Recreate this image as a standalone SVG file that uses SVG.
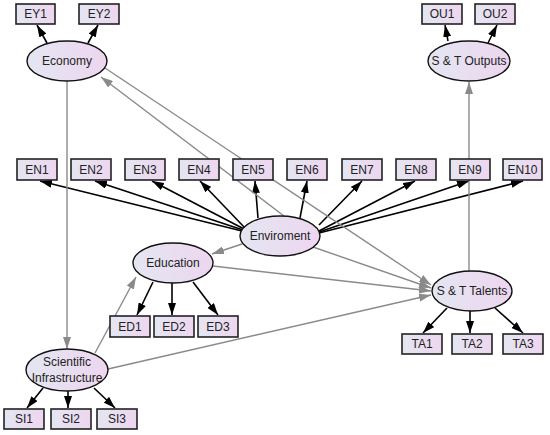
<svg xmlns="http://www.w3.org/2000/svg" width="550" height="435" viewBox="0 0 550 435">
<defs>
<linearGradient id="g" x1="0" y1="0" x2="1" y2="0">
<stop offset="0" stop-color="#e4e6f2"/>
<stop offset="1" stop-color="#edd6ef"/>
</linearGradient>
<marker id="ab" viewBox="0 0 12 8" refX="12" refY="4" markerWidth="12" markerHeight="8" markerUnits="userSpaceOnUse" orient="auto">
<path d="M0,0 L12,4 L0,8 z" fill="#000"/>
</marker>
<marker id="ag" viewBox="0 0 12 8" refX="12" refY="4" markerWidth="12" markerHeight="8" markerUnits="userSpaceOnUse" orient="auto">
<path d="M0,0 L12,4 L0,8 z" fill="#8a8a8a"/>
</marker>
</defs>
<style>
rect{fill:url(#g);stroke:#222;stroke-width:1.6}
ellipse{fill:url(#g);stroke:#111;stroke-width:1.4}
text{font-family:"Liberation Sans",Arial,sans-serif;font-size:12px;fill:#222;text-anchor:middle;dominant-baseline:central}
.b{stroke:#000;stroke-width:1.6;fill:none;marker-end:url(#ab)}
.gr{stroke:#8a8a8a;stroke-width:1.4;fill:none;marker-end:url(#ag)}
</style>
<rect width="550" height="435" fill="#fff" style="fill:#fff;stroke:none"/>
<g id="connectors">
<line class="b" x1="47" y1="43" x2="37" y2="25"/>
<line class="b" x1="88" y1="43" x2="98" y2="25"/>
<line class="b" x1="448" y1="41" x2="445" y2="25"/>
<line class="b" x1="488" y1="43" x2="497" y2="25"/>
<line class="b" x1="242" y1="231" x2="40" y2="181"/>
<line class="b" x1="243" y1="230" x2="95" y2="181"/>
<line class="b" x1="244" y1="229" x2="152" y2="181"/>
<line class="b" x1="245" y1="228" x2="200" y2="181"/>
<line class="b" x1="258" y1="218" x2="255" y2="181"/>
<line class="b" x1="300" y1="218" x2="307" y2="181"/>
<line class="b" x1="319" y1="225" x2="362" y2="181"/>
<line class="b" x1="319" y1="231" x2="415" y2="181"/>
<line class="b" x1="319" y1="232" x2="469" y2="181"/>
<line class="b" x1="319" y1="233" x2="523" y2="181"/>
<line class="b" x1="153" y1="282" x2="137" y2="315"/>
<line class="b" x1="172" y1="283" x2="172" y2="315"/>
<line class="b" x1="193" y1="282" x2="218" y2="315"/>
<line class="b" x1="447" y1="308" x2="423" y2="333"/>
<line class="b" x1="470" y1="311" x2="470" y2="333"/>
<line class="b" x1="495" y1="308" x2="523" y2="333"/>
<line class="b" x1="43" y1="388" x2="27" y2="408"/>
<line class="b" x1="68" y1="391" x2="68" y2="408"/>
<line class="b" x1="94" y1="388" x2="115" y2="408"/>
<line class="gr" x1="67" y1="81" x2="67" y2="349"/>
<line class="gr" x1="469" y1="271" x2="469" y2="82"/>
<line class="gr" x1="284" y1="216" x2="101" y2="77"/>
<line class="gr" x1="105" y1="68" x2="431" y2="285"/>
<line class="gr" x1="313" y1="247" x2="431" y2="288"/>
<line class="gr" x1="213" y1="266" x2="431" y2="291"/>
<line class="gr" x1="108" y1="369" x2="431" y2="295"/>
<line class="gr" x1="242" y1="244" x2="212" y2="254"/>
<line class="gr" x1="95" y1="353" x2="136" y2="277"/>
</g>
<g id="EY1"><rect x="16" y="4" width="39" height="20"/><text x="35.5" y="14">EY1</text></g>
<g id="EY2"><rect x="79" y="4" width="40" height="20"/><text x="99" y="14">EY2</text></g>
<g id="OU1"><rect x="422" y="4" width="40" height="20"/><text x="442" y="14">OU1</text></g>
<g id="OU2"><rect x="475" y="4" width="40" height="20"/><text x="495" y="14">OU2</text></g>
<g id="Economy"><ellipse cx="67" cy="61" rx="40" ry="20"/><text x="67" y="61">Economy</text></g>
<g id="Outputs"><ellipse cx="469" cy="61" rx="41" ry="20"/><text x="469" y="61">S &amp; T Outputs</text></g>
<g id="EN1"><rect x="17" y="159" width="40" height="21"/><text x="37" y="169.5">EN1</text></g>
<g id="EN2"><rect x="71" y="159" width="40" height="21"/><text x="91" y="169.5">EN2</text></g>
<g id="EN3"><rect x="125" y="159" width="40" height="21"/><text x="145" y="169.5">EN3</text></g>
<g id="EN4"><rect x="179" y="159" width="40" height="21"/><text x="199" y="169.5">EN4</text></g>
<g id="EN5"><rect x="233" y="159" width="40" height="21"/><text x="253" y="169.5">EN5</text></g>
<g id="EN6"><rect x="287" y="159" width="40" height="21"/><text x="307" y="169.5">EN6</text></g>
<g id="EN7"><rect x="342" y="159" width="40" height="21"/><text x="362" y="169.5">EN7</text></g>
<g id="EN8"><rect x="396" y="159" width="40" height="21"/><text x="416" y="169.5">EN8</text></g>
<g id="EN9"><rect x="450" y="159" width="40" height="21"/><text x="470" y="169.5">EN9</text></g>
<g id="EN10"><rect x="503" y="159" width="39" height="21"/><text x="522.5" y="169.5">EN10</text></g>
<g id="Enviroment"><ellipse cx="280" cy="236" rx="40" ry="20"/><text x="280" y="236">Enviroment</text></g>
<g id="Education"><ellipse cx="173" cy="263" rx="40" ry="20"/><text x="173" y="263">Education</text></g>
<g id="Talents"><ellipse cx="472" cy="291" rx="40" ry="20"/><text x="472" y="291">S &amp; T Talents</text></g>
<g id="ED1"><rect x="110" y="316" width="40" height="21"/><text x="130" y="326.5">ED1</text></g>
<g id="ED2"><rect x="154" y="316" width="40" height="21"/><text x="174" y="326.5">ED2</text></g>
<g id="ED3"><rect x="198" y="316" width="40" height="21"/><text x="218" y="326.5">ED3</text></g>
<g id="TA1"><rect x="402" y="334" width="40" height="20"/><text x="422" y="344">TA1</text></g>
<g id="TA2"><rect x="452" y="334" width="40" height="20"/><text x="472" y="344">TA2</text></g>
<g id="TA3"><rect x="503" y="334" width="40" height="20"/><text x="523" y="344">TA3</text></g>
<g id="SciInfra"><ellipse cx="67" cy="370" rx="41" ry="21"/><text x="67" y="362">Scientific</text><text x="67" y="378">Infrastructure</text></g>
<g id="SI1"><rect x="4" y="409" width="40" height="20"/><text x="24" y="419">SI1</text></g>
<g id="SI2"><rect x="51" y="409" width="40" height="20"/><text x="71" y="419">SI2</text></g>
<g id="SI3"><rect x="97" y="409" width="40" height="20"/><text x="117" y="419">SI3</text></g>
</svg>
